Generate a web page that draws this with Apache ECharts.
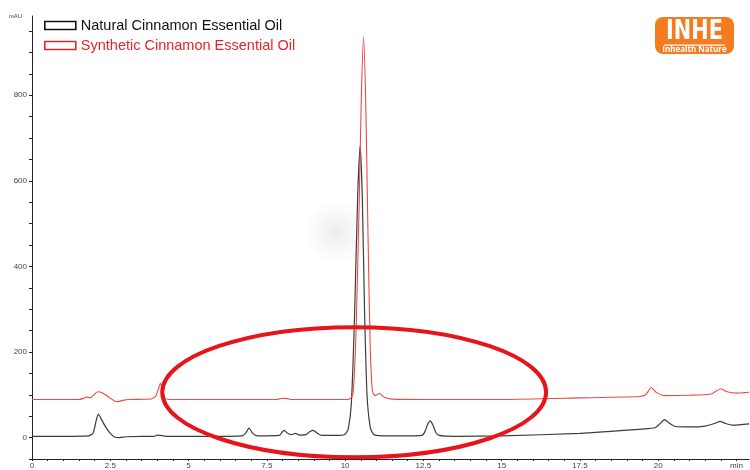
<!DOCTYPE html>
<html><head><meta charset="utf-8">
<script src="https://cdn.jsdelivr.net/npm/echarts@6/dist/echarts.min.js"></script>
<style>html,body{margin:0;padding:0;background:#fff}#c{width:750px;height:470px}</style>
</head><body><div id="c"></div>
<script>
// Retention time (min), absorbance (mAU)
var natural = [
 [0,3],[1.0,3],[1.8,4],[1.95,10],[2.05,40],[2.12,55],[2.2,45],[2.35,25],[2.5,10],[2.65,1],[2.8,0],[3.0,2],[3.5,3],[3.9,3],[4.0,6],[4.1,5],[4.3,3],
 [5.0,3],[6.0,3],[6.7,4],[6.82,10],[6.93,22],[7.05,10],[7.2,4],[7.9,5],[7.98,12],[8.06,17],[8.15,11],[8.28,7],[8.42,10],[8.55,6],[8.75,7],[8.88,14],[8.98,17],[9.1,11],[9.25,5],
 [9.8,5],[10.0,8],[10.1,20],[10.2,80],[10.3,280],[10.4,560],[10.48,682],[10.55,560],[10.62,300],[10.7,100],[10.8,25],[10.9,8],[11.0,5],[11.2,4],
 [12.0,4],[12.45,5],[12.55,14],[12.65,33],[12.72,39],[12.8,30],[12.9,12],[13.0,5],[13.5,3],[15,4],[17.5,10],[19.5,20],[19.9,23],[20.05,32],[20.2,42],[20.35,34],[20.55,26],
 [21.0,25],[21.5,27],[21.8,33],[21.98,38],[22.15,33],[22.4,29],[22.9,32]
];
var synthetic = [
 [0,89],[1.5,89],[1.65,92],[1.75,95],[1.85,93],[1.95,98],[2.1,107],[2.2,106],[2.35,100],[2.5,92],[2.65,85],[2.75,84],[2.9,87],[3.1,89],[3.8,90],[3.95,97],[4.03,112],[4.1,127],[4.17,110],[4.25,92],[4.4,89],
 [6,89],[7.8,89],[8.0,92],[8.15,91],[8.3,89],[10.1,89],[10.25,100],[10.35,250],[10.45,550],[10.52,800],[10.59,936],[10.66,780],[10.73,480],[10.8,220],[10.87,110],[10.95,98],[11.1,103],[11.25,94],[11.5,90],
 [13,89],[15,89],[17,92],[19.4,96],[19.6,100],[19.78,117],[19.95,105],[20.2,98],[21,99],[21.7,102],[21.88,110],[22.0,114],[22.2,107],[22.5,104],[22.9,106]
];
var seriesNames = ['Natural Cinnamon Essential Oil','Synthetic Cinnamon Essential Oil'];
var xLabelStep = 2.5, yLabelStep = 200;
// highlight ellipse (center in data units, radii in data units)
var ellipseCenter = [10.29, 106];
var ellipseRadius = [6.13, 152];

var chart = echarts.init(document.getElementById('c'), null, {renderer:'canvas'});
var font = '"Liberation Sans", Arial, sans-serif';
var option = {
  animation:false,
  grid:{left:32, right:1, top:16, bottom:11, containLabel:false},
  legend:{
    orient:'vertical', left:39, top:13, itemWidth:31, itemHeight:8, itemGap:5, icon:'rect',
    textStyle:{fontFamily:font, fontSize:14.5},
    data:[
      {name:seriesNames[0], itemStyle:{color:'rgba(0,0,0,0)', borderColor:'#111', borderWidth:1.6}, textStyle:{color:'#111'}},
      {name:seriesNames[1], itemStyle:{color:'rgba(0,0,0,0)', borderColor:'#e8242a', borderWidth:1.6}, textStyle:{color:'#e8242a'}}
    ]
  },
  xAxis:{type:'value', min:0, max:22.9, interval:0.5,
    axisLine:{onZero:false, lineStyle:{color:'#222', width:1}},
    axisTick:{show:true, length:2, lineStyle:{color:'#222'}},
    splitLine:{show:false},
    axisLabel:{interval:0, fontFamily:font, fontSize:8, color:'#444', margin:3, showMaxLabel:false,
      formatter:function(v){ if (Math.abs(v-22.5)<1e-6) return 'min'; return (Math.abs(v/xLabelStep-Math.round(v/xLabelStep))<1e-6)? String(v):''; }}
  },
  yAxis:{type:'value', min:-50, max:985, interval:50,
    name:'mAU', nameLocation:'end', nameGap:-3,
    nameTextStyle:{fontFamily:font, fontSize:6, color:'#444', align:'right', padding:[0,10,0,0]},
    axisLine:{show:true, onZero:false, lineStyle:{color:'#222', width:1}},
    axisTick:{show:true, length:3, lineStyle:{color:'#222'}},
    splitLine:{show:false},
    axisLabel:{fontFamily:font, fontSize:8, color:'#444', margin:5, showMaxLabel:false,
      formatter:function(v){ return (v>=0 && v%yLabelStep===0)? String(v):''; }}
  },
  series:[
    {name:seriesNames[0], type:'line', data:natural, showSymbol:false, smooth:0.2,
      lineStyle:{color:'#3c3c3c', width:1.2}, itemStyle:{color:'#3c3c3c'}},
    {name:seriesNames[1], type:'line', data:synthetic, showSymbol:false, smooth:0.2,
      lineStyle:{color:'#ee4848', width:1.1}, itemStyle:{color:'#ee4848'}}
  ]
};
chart.setOption(option);

var c = chart.convertToPixel({gridIndex:0}, ellipseCenter);
var ex = chart.convertToPixel({gridIndex:0}, [ellipseCenter[0]+ellipseRadius[0], ellipseCenter[1]]);
var ey = chart.convertToPixel({gridIndex:0}, [ellipseCenter[0], ellipseCenter[1]+ellipseRadius[1]]);
chart.setOption({graphic:[
  {type:'circle', shape:{cx:336, cy:232, r:32}, silent:true, z:0,
    style:{fill:new echarts.graphic.RadialGradient(0.5,0.5,0.5,[{offset:0,color:'rgba(0,0,0,0.07)'},{offset:1,color:'rgba(0,0,0,0)'}])}},
  {type:'ellipse', shape:{cx:c[0], cy:c[1], rx:Math.abs(ex[0]-c[0]), ry:Math.abs(c[1]-ey[1])}, silent:true, z:100,
    style:{fill:null, stroke:'#e8141b', lineWidth:4}},
  {type:'group', x:655, y:17, z:100, children:[
    {type:'rect', shape:{x:0, y:0, width:79, height:37, r:8}, style:{fill:'#f47b20'}},
    {type:'text', x:39.5, y:2, scaleX:0.8, style:{text:'INHE', fill:'#fff', font:'bold 26px "DejaVu Sans", sans-serif', textAlign:'center', textVerticalAlign:'top'}},
    {type:'rect', shape:{x:9, y:27.5, width:61, height:1.2}, style:{fill:'#fff'}},
    {type:'text', x:39.5, y:29, style:{text:'Inhealth Nature', fill:'#fff', font:'bold 8px "Open Sans", sans-serif', textAlign:'center', textVerticalAlign:'top'}}
  ]}
]});
</script></body></html>
